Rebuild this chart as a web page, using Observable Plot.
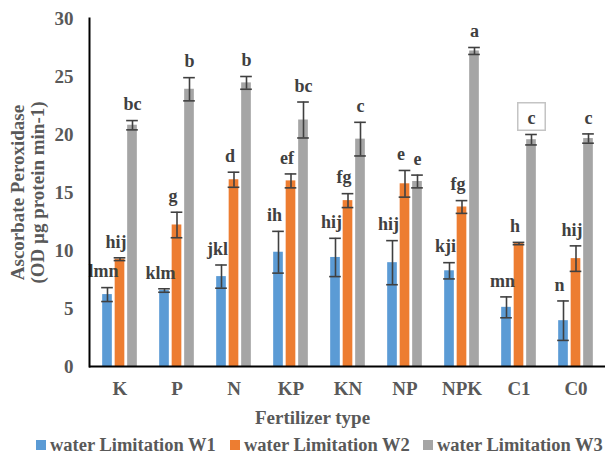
<!DOCTYPE html>
<html><head><meta charset="utf-8">
<script src="https://cdn.jsdelivr.net/npm/d3@7"></script>
<script src="https://cdn.jsdelivr.net/npm/@observablehq/plot@0.6"></script>
<style>
html,body{margin:0;background:#fff;overflow:hidden;}
#chart{width:605px;height:454px;position:relative;font-family:"Liberation Serif","Times New Roman",serif;}
#chart svg{display:block}
.legend{position:relative;height:24px;font-weight:bold;font-size:18.5px;color:#595959;white-space:nowrap}
.item{position:absolute;top:7px;height:16px;line-height:16px;display:flex;align-items:center;gap:4px}
.sw{width:10px;height:10px;display:inline-block}
</style></head><body><div id="chart"></div>
<script>
const categories = ["K","P","N","KP","KN","NP","NPK","C1","C0"];
const seriesNames = ["water Limitation W1","water Limitation W2","water Limitation W3"];
const seriesColors = ["#5B9BD5","#ED7D31","#A5A5A5"];
const w1 = [6.2, 6.55, 7.75, 9.85, 9.4, 8.95, 8.25, 5.1, 3.95];
const w1Err = [0.6, 0.15, 1.0, 1.8, 1.65, 1.9, 0.7, 0.9, 1.7];
const w2 = [9.25, 12.2, 16.1, 16.0, 14.3, 15.75, 13.75, 10.6, 9.3];
const w2Err = [0.12, 1.1, 0.65, 0.6, 0.6, 1.15, 0.55, 0.1, 1.1];
const w3 = [20.8, 23.9, 24.45, 21.25, 19.6, 15.95, 27.2, 19.55, 19.65];
const w3Err = [0.4, 1.0, 0.55, 1.55, 1.45, 0.55, 0.3, 0.45, 0.4];
const w1Labels = ["lmn","klm","jkl","ih","hij","hij","kji","mn","n"];
const w2Labels = ["hij","g","d","ef","fg","e","fg","h","hij"];
const w3Labels = ["bc","b","b","bc","c","e","a","c","c"];
const yTicks = [0,5,10,15,20,25,30];
const xTitle = "Fertilizer type";
const yTitle = "Ascorbate Peroxidase\n(OD µg protein min-1)";
const boxed = {cat: "C1", series: 2};

const seriesValues = [w1, w2, w3];
const seriesErrs = [w1Err, w2Err, w3Err];
const seriesLabels = [w1Labels, w2Labels, w3Labels];

const W = 605, H = 430, mL = 89, mR = 0, mT = 18, mB = 64;
const bandW = (W - mL - mR) / categories.length;
const barW = 10, step = 12.5, capW = 12;
const labelShift = [-4, -4, 0];

const bars = [], errs = [], boxes = [], texts = [];
seriesNames.forEach((name, si) => {
  const rows = categories.map((c, i) => ({cat: c, si, value: seriesValues[si][i], err: seriesErrs[si][i], label: seriesLabels[si][i]}));
  const dx = (si - 1) * step;
  bars.push(Plot.barY(rows, {x: "cat", y: "value", fill: seriesColors[si], dx, insetLeft: (bandW - barW) / 2, insetRight: (bandW - barW) / 2}));
  errs.push(Plot.ruleX(rows, {x: "cat", y1: d => d.value - d.err, y2: d => d.value + d.err, dx, stroke: "#404040", strokeWidth: 1.6}));
  errs.push(Plot.tickY(rows, {x: "cat", y: d => d.value + d.err, dx, insetLeft: (bandW - capW) / 2, insetRight: (bandW - capW) / 2, stroke: "#404040", strokeWidth: 1.6}));
  errs.push(Plot.tickY(rows, {x: "cat", y: d => d.value - d.err, dx, insetLeft: (bandW - capW) / 2, insetRight: (bandW - capW) / 2, stroke: "#404040", strokeWidth: 1.6}));
  const boxedRows = rows.filter(d => d.cat === boxed.cat && si === boxed.series);
  boxes.push(Plot.dot(boxedRows, {x: "cat", y: d => d.value + d.err, dx, dy: -18, symbol: "square", r: 15.5, fill: "white", stroke: "#c4c4c4", strokeWidth: 1.5}));
  texts.push(Plot.text(rows, {x: "cat", y: d => d.value + d.err, text: "label", dx: dx + labelShift[si], dy: -16, fill: "#404040", fontSize: 18, fontWeight: "bold"}));
});

const chart = Plot.plot({
  width: W, height: H,
  marginLeft: mL, marginRight: mR, marginTop: mT, marginBottom: mB,
  style: {fontFamily: "'Liberation Serif','Times New Roman',serif", fontSize: "19px", fontWeight: "bold", color: "#595959", background: "white"},
  x: {domain: categories, padding: 0, tickSize: 0, tickPadding: 15, label: null},
  y: {domain: [0, 30], ticks: yTicks, tickSize: 0, tickPadding: 16, label: null},
  marks: [
    ...bars, ...errs, ...boxes, ...texts,
    Plot.ruleY([0], {stroke: "black", strokeWidth: 2}),
    Plot.frame({anchor: "left", stroke: "black", strokeWidth: 2}),
    Plot.text([xTitle], {frameAnchor: "bottom", textAnchor: "middle", lineAnchor: "middle", dy: 51, dx: -35, fill: "#595959", fontSize: 19, fontWeight: "bold"}),
    Plot.text([yTitle], {frameAnchor: "left", textAnchor: "middle", lineAnchor: "middle", dx: -62, rotate: -90, lineHeight: 1.05, fill: "#595959", fontSize: 19, fontWeight: "bold"})
  ]
});

const root = document.getElementById("chart");
root.appendChild(chart);
const legend = document.createElement("div");
legend.className = "legend";
const legendLeft = [36, 230, 423];
seriesNames.forEach((n, i) => {
  const it = document.createElement("div");
  it.className = "item";
  it.style.left = legendLeft[i] + "px";
  const sw = document.createElement("span");
  sw.className = "sw";
  sw.style.background = seriesColors[i];
  const t = document.createElement("span");
  t.textContent = n;
  it.appendChild(sw); it.appendChild(t);
  legend.appendChild(it);
});
root.appendChild(legend);
</script></body></html>
